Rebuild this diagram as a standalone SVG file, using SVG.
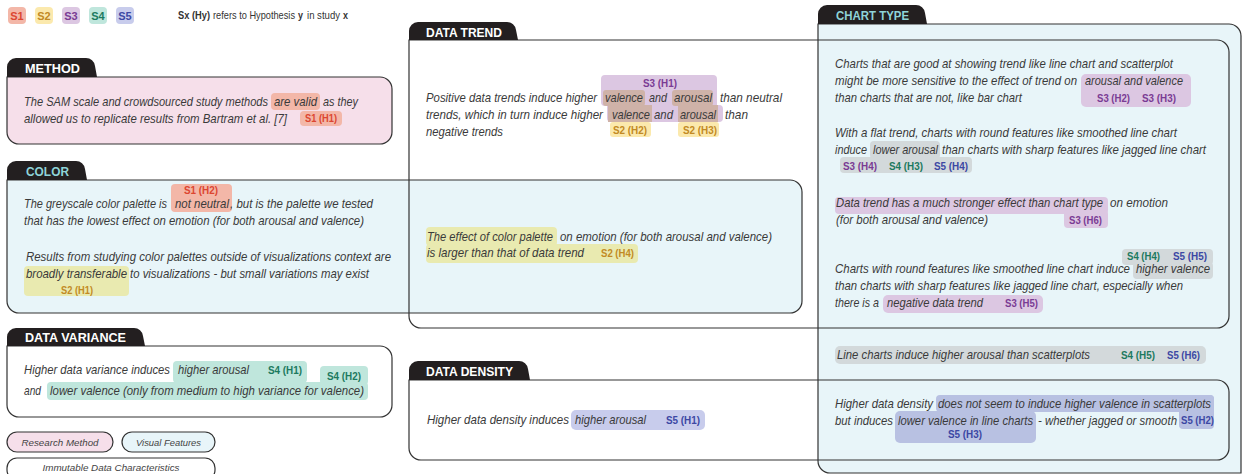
<svg xmlns="http://www.w3.org/2000/svg" width="1242" height="474" viewBox="0 0 1242 474">
<style>
.t{font-family:"Liberation Sans Narrow","Liberation Sans",Arial,sans-serif;font-style:italic;font-size:13px;fill:#3a3a3a}
.b{font-family:"Liberation Sans Narrow","Liberation Sans",Arial,sans-serif;font-weight:bold;font-size:11px}
.lg{font-family:"Liberation Sans Narrow","Liberation Sans",Arial,sans-serif;font-size:11px;fill:#333}
.pl{font-family:"Liberation Sans","DejaVu Sans",sans-serif;font-style:italic;font-size:9.5px;fill:#444}
.tab{fill:#231f20}
.tt{font-family:"Liberation Sans","DejaVu Sans",sans-serif;font-weight:bold;font-size:12px;fill:#ffffff}
.tc{fill:#8fd4d8}
.box{stroke:#333;stroke-width:1.2}
.c1{fill:#dc4631}.c2{fill:#c28a24}.c3{fill:#7a3b94}.c4{fill:#1c7a5f}.c5{fill:#3c48a4}
.h1{fill:#f3b7a8}.h2{fill:#fbe9ad}.h2g{fill:#e9eab0}.h3{fill:#dcc7e2}.h4{fill:#bfe6dc}.h5{fill:#c8ccec}.h5b{fill:#b8c1e2}.hg{fill:#d3d9db}.hbr{fill:#cfb2a8}
</style>

<g id="boxes">
  <path id="chart-type-box" class="box" fill="#e8f5f9" d="M818,24 H1229 A12,12 0 0 1 1241,36 V473 H830 A12,12 0 0 1 818,461 Z"/>
  <path id="color-box" class="box" fill="#e8f5f9" d="M7,180 H790 A12,12 0 0 1 802,192 V301 A12,12 0 0 1 790,313 H19 A12,12 0 0 1 7,301 Z"/>
  <path id="data-trend-box" class="box" fill="none" d="M409,40 H1217 A12,12 0 0 1 1229,52 V316 A12,12 0 0 1 1217,328 H421 A12,12 0 0 1 409,316 Z"/>
  <path id="data-density-box" class="box" fill="none" d="M409,380 H1217 A12,12 0 0 1 1229,392 V448 A12,12 0 0 1 1217,460 H421 A12,12 0 0 1 409,448 Z"/>
  <path id="method-box" class="box" fill="#f6dfea" d="M7,77 H380 A12,12 0 0 1 392,89 V132 A12,12 0 0 1 380,144 H19 A12,12 0 0 1 7,132 Z"/>
  <path id="data-variance-box" class="box" fill="#ffffff" d="M7,346 H380 A12,12 0 0 1 392,358 V405 A12,12 0 0 1 380,417 H19 A12,12 0 0 1 7,405 Z"/>
</g>

<g id="tabs">
  <g id="tab-method"><path class="tab" d="M7,77 V67 A9,9 0 0 1 16,58 H86 A9,9 0 0 1 95,66 L97,77 Z"/><text class="tt" x="25" y="73" textLength="55" lengthAdjust="spacingAndGlyphs">METHOD</text></g>
  <g id="tab-color"><path class="tab" d="M7,180 V170 A9,9 0 0 1 16,161 H76 A9,9 0 0 1 85,169 L87,180 Z"/><text class="tt tc" x="26" y="176" textLength="43" lengthAdjust="spacingAndGlyphs">COLOR</text></g>
  <g id="tab-variance"><path class="tab" d="M7,346 V337 A9,9 0 0 1 16,328 H134 A9,9 0 0 1 143,336 L145,346 Z"/><text class="tt" x="25" y="342" textLength="101" lengthAdjust="spacingAndGlyphs">DATA  VARIANCE</text></g>
  <g id="tab-trend"><path class="tab" d="M409,40 V31 A9,9 0 0 1 418,22 H507 A9,9 0 0 1 516,30 L518,40 Z"/><text class="tt" x="426" y="37" textLength="76" lengthAdjust="spacingAndGlyphs">DATA TREND</text></g>
  <g id="tab-density"><path class="tab" d="M409,380 V370 A9,9 0 0 1 418,361 H519 A9,9 0 0 1 528,369 L530,380 Z"/><text class="tt" x="426" y="376" textLength="87" lengthAdjust="spacingAndGlyphs">DATA DENSITY</text></g>
  <g id="tab-chart"><path class="tab" d="M818,24 V14 A9,9 0 0 1 827,5 H916 A9,9 0 0 1 925,13 L927,24 Z"/><text class="tc tt" x="836" y="20" textLength="73" lengthAdjust="spacingAndGlyphs">CHART TYPE</text></g>
</g>

<g id="legend-top">
  <rect class="h1" x="8" y="7" width="18" height="17" rx="4"/><text class="b c1" x="17" y="19.5" text-anchor="middle">S1</text>
  <rect class="h2" x="35" y="7" width="18" height="17" rx="4"/><text class="b c2" x="44" y="19.5" text-anchor="middle">S2</text>
  <rect class="h3" x="62" y="7" width="18" height="17" rx="4"/><text class="b c3" x="71" y="19.5" text-anchor="middle">S3</text>
  <rect class="h4" x="89" y="7" width="18" height="17" rx="4"/><text class="b c4" x="98" y="19.5" text-anchor="middle">S4</text>
  <rect class="h5" x="116" y="7" width="18" height="17" rx="4"/><text class="b c5" x="125" y="19.5" text-anchor="middle">S5</text>
  <text class="lg" x="178" y="19" font-weight="bold" textLength="32" lengthAdjust="spacingAndGlyphs">Sx (Hy)</text>
  <text class="lg" x="213" y="19" textLength="82" lengthAdjust="spacingAndGlyphs">refers to Hypothesis</text>
  <text class="lg" x="298" y="19" font-weight="bold" textLength="5" lengthAdjust="spacingAndGlyphs">y</text>
  <text class="lg" x="307" y="19" textLength="33" lengthAdjust="spacingAndGlyphs">in study</text>
  <text class="lg" x="343" y="19" font-weight="bold" textLength="5" lengthAdjust="spacingAndGlyphs">x</text>
</g>

<g id="node-method">
  <rect class="h1" x="271" y="93" width="49" height="17" rx="4"/>
  <rect class="h1" x="300" y="111" width="42" height="15" rx="4"/>
  <text class="t" x="24" y="106" textLength="244" lengthAdjust="spacingAndGlyphs">The SAM scale and crowdsourced study methods</text>
  <text class="t" x="274" y="106" textLength="43" lengthAdjust="spacingAndGlyphs">are valid</text>
  <text class="t" x="323" y="106" textLength="35" lengthAdjust="spacingAndGlyphs">as they</text>
  <text class="t" x="24" y="123" textLength="263" lengthAdjust="spacingAndGlyphs">allowed us to replicate results from Bartram et al. [7]</text>
  <text class="b c1" x="305" y="122" textLength="32" lengthAdjust="spacingAndGlyphs">S1 (H1)</text>
</g>

<g id="node-color">
  <rect class="h1" x="171" y="184" width="61" height="28" rx="4"/>
  <text class="b c1" x="184" y="194" textLength="34" lengthAdjust="spacingAndGlyphs">S1 (H2)</text>
  <text class="t" x="24" y="208" textLength="143" lengthAdjust="spacingAndGlyphs">The greyscale color palette is</text>
  <text class="t" x="175" y="208" textLength="54" lengthAdjust="spacingAndGlyphs">not neutral</text>
  <text class="t" x="230" y="208" textLength="143" lengthAdjust="spacingAndGlyphs">, but is the palette we tested</text>
  <text class="t" x="24" y="225" textLength="340" lengthAdjust="spacingAndGlyphs">that has the lowest effect on emotion (for both arousal and valence)</text>
  <rect class="h2g" x="24" y="266" width="105" height="30" rx="4"/>
  <text class="t" x="26" y="261" textLength="365" lengthAdjust="spacingAndGlyphs">Results from studying color palettes outside of visualizations context  are</text>
  <text class="t" x="26" y="278" textLength="101" lengthAdjust="spacingAndGlyphs">broadly transferable</text>
  <text class="t" x="130" y="278" textLength="239" lengthAdjust="spacingAndGlyphs">to visualizations - but small variations may exist</text>
  <text class="b c2" x="61" y="294" textLength="32" lengthAdjust="spacingAndGlyphs">S2 (H1)</text>
</g>

<g id="node-color-trend">
  <rect class="h2g" x="426" y="227" width="131" height="19" rx="4"/>
  <rect class="h2g" x="426" y="244" width="212" height="19" rx="4"/>
  <text class="t" x="427" y="241" textLength="126" lengthAdjust="spacingAndGlyphs">The effect of color palette</text>
  <text class="t" x="560" y="241" textLength="212" lengthAdjust="spacingAndGlyphs">on emotion (for both arousal and valence)</text>
  <text class="t" x="427" y="257" textLength="157" lengthAdjust="spacingAndGlyphs">is larger than that of data trend</text>
  <text class="b c2" x="601" y="257" textLength="33" lengthAdjust="spacingAndGlyphs">S2 (H4)</text>
</g>

<g id="node-data-trend">
  <path class="h3" d="M605,75 H713 A4,4 0 0 1 717,79 V105 H719 A4,4 0 0 1 723,109 V118 A4,4 0 0 1 719,122 H611 A4,4 0 0 1 607,118 V106 H605 A4,4 0 0 1 601,102 V79 A4,4 0 0 1 605,75 Z"/>
  <rect class="hbr" x="603" y="90" width="42" height="16" rx="3"/>
  <rect class="hbr" x="672" y="90" width="41" height="16" rx="3"/>
  <rect class="hbr" x="608" y="105" width="44" height="17"/>
  <rect class="hbr" x="678" y="105" width="40" height="17"/>
  <rect class="h2" x="610" y="122" width="41" height="15" rx="3"/>
  <rect class="h2" x="678" y="122" width="41" height="15" rx="3"/>
  <text class="b c3" x="643" y="87" textLength="34" lengthAdjust="spacingAndGlyphs">S3 (H1)</text>
  <text class="t" x="426" y="102" textLength="171" lengthAdjust="spacingAndGlyphs">Positive data trends induce higher</text>
  <text class="t" x="605" y="102" textLength="38" lengthAdjust="spacingAndGlyphs">valence</text>
  <text class="t" x="649" y="102" textLength="18" lengthAdjust="spacingAndGlyphs">and</text>
  <text class="t" x="674" y="102" textLength="38" lengthAdjust="spacingAndGlyphs">arousal</text>
  <text class="t" x="720" y="102" textLength="62" lengthAdjust="spacingAndGlyphs">than neutral</text>
  <text class="t" x="426" y="119" textLength="177" lengthAdjust="spacingAndGlyphs">trends, which in turn induce higher</text>
  <text class="t" x="612" y="119" textLength="38" lengthAdjust="spacingAndGlyphs">valence</text>
  <text class="t" x="654" y="119" textLength="19" lengthAdjust="spacingAndGlyphs">and</text>
  <text class="t" x="680" y="119" textLength="36" lengthAdjust="spacingAndGlyphs">arousal</text>
  <text class="t" x="725" y="119" textLength="23" lengthAdjust="spacingAndGlyphs">than</text>
  <text class="t" x="426" y="136" textLength="77" lengthAdjust="spacingAndGlyphs">negative trends</text>
  <text class="b c2" x="613" y="134" textLength="34" lengthAdjust="spacingAndGlyphs">S2 (H2)</text>
  <text class="b c2" x="683" y="134" textLength="34" lengthAdjust="spacingAndGlyphs">S2 (H3)</text>
</g>

<g id="node-data-variance">
  <rect class="h4" x="173" y="361" width="134" height="22" rx="4"/>
  <rect class="h4" x="320" y="366" width="48" height="19" rx="4"/>
  <rect class="h4" x="47" y="382" width="321" height="18" rx="4"/>
  <text class="t" x="24" y="374" textLength="146" lengthAdjust="spacingAndGlyphs">Higher data variance induces</text>
  <text class="t" x="178" y="374" textLength="71" lengthAdjust="spacingAndGlyphs">higher arousal</text>
  <text class="b c4" x="268" y="374" textLength="34" lengthAdjust="spacingAndGlyphs">S4 (H1)</text>
  <text class="b c4" x="327" y="380" textLength="34" lengthAdjust="spacingAndGlyphs">S4 (H2)</text>
  <text class="t" x="24" y="395" textLength="17" lengthAdjust="spacingAndGlyphs">and</text>
  <text class="t" x="50" y="395" textLength="314" lengthAdjust="spacingAndGlyphs">lower valence (only from medium to high variance for valence)</text>
</g>

<g id="node-data-density">
  <rect class="h5" x="571" y="410" width="134" height="20" rx="5"/>
  <text class="t" x="427" y="424" textLength="142" lengthAdjust="spacingAndGlyphs">Higher data density induces</text>
  <text class="t" x="575" y="424" textLength="71" lengthAdjust="spacingAndGlyphs">higher arousal</text>
  <text class="b c5" x="666" y="424" textLength="34" lengthAdjust="spacingAndGlyphs">S5 (H1)</text>
</g>

<g id="node-chart-type">
  <rect class="h3" x="1081" y="74" width="110" height="33" rx="5"/>
  <text class="t" x="835" y="68" textLength="338" lengthAdjust="spacingAndGlyphs">Charts that are good at showing trend like line chart and scatterplot</text>
  <text class="t" x="835" y="85" textLength="242" lengthAdjust="spacingAndGlyphs">might be more sensitive to the effect of trend on</text>
  <text class="t" x="1085" y="85" textLength="98" lengthAdjust="spacingAndGlyphs">arousal and valence</text>
  <text class="t" x="835" y="102" textLength="187" lengthAdjust="spacingAndGlyphs">than charts that are not, like bar chart</text>
  <text class="b c3" x="1097" y="102" textLength="33" lengthAdjust="spacingAndGlyphs">S3 (H2)</text>
  <text class="b c3" x="1142" y="102" textLength="34" lengthAdjust="spacingAndGlyphs">S3 (H3)</text>

  <rect class="hg" x="870" y="141" width="70" height="18" rx="4"/>
  <rect class="hg" x="840" y="157" width="132" height="16" rx="4"/>
  <text class="t" x="835" y="137" textLength="342" lengthAdjust="spacingAndGlyphs">With a flat trend, charts with round features like smoothed line chart</text>
  <text class="t" x="835" y="154" textLength="32" lengthAdjust="spacingAndGlyphs">induce</text>
  <text class="t" x="873" y="154" textLength="65" lengthAdjust="spacingAndGlyphs">lower arousal</text>
  <text class="t" x="942" y="154" textLength="264" lengthAdjust="spacingAndGlyphs">than charts with sharp features like jagged line chart</text>
  <text class="b c3" x="843" y="170" textLength="34" lengthAdjust="spacingAndGlyphs">S3 (H4)</text>
  <text class="b c4" x="889" y="170" textLength="34" lengthAdjust="spacingAndGlyphs">S4 (H3)</text>
  <text class="b c5" x="934" y="170" textLength="34" lengthAdjust="spacingAndGlyphs">S5 (H4)</text>

  <rect class="h3" x="835" y="197" width="273" height="17" rx="4"/>
  <rect class="h3" x="1064" y="210" width="44" height="18" rx="4"/>
  <text class="t" x="836" y="207" textLength="267" lengthAdjust="spacingAndGlyphs">Data trend has a much stronger effect than chart type</text>
  <text class="t" x="1110" y="207" textLength="58" lengthAdjust="spacingAndGlyphs">on emotion</text>
  <text class="t" x="836" y="224" textLength="152" lengthAdjust="spacingAndGlyphs">(for both arousal and valence)</text>
  <text class="b c3" x="1069" y="224" textLength="33" lengthAdjust="spacingAndGlyphs">S3 (H6)</text>

  <rect class="hg" x="1122" y="249" width="91" height="16" rx="4"/>
  <rect class="hg" x="1133" y="262" width="80" height="17" rx="4"/>
  <text class="b c4" x="1127" y="260" textLength="33" lengthAdjust="spacingAndGlyphs">S4 (H4)</text>
  <text class="b c5" x="1173" y="260" textLength="34" lengthAdjust="spacingAndGlyphs">S5 (H5)</text>
  <text class="t" x="835" y="273" textLength="295" lengthAdjust="spacingAndGlyphs">Charts with round features like smoothed line chart induce</text>
  <text class="t" x="1136" y="273" textLength="74" lengthAdjust="spacingAndGlyphs">higher valence</text>
  <text class="t" x="835" y="290" textLength="348" lengthAdjust="spacingAndGlyphs">than charts with sharp features like jagged line chart, especially when</text>
  <rect class="h3" x="883" y="295" width="160" height="18" rx="5"/>
  <text class="t" x="835" y="307" textLength="44" lengthAdjust="spacingAndGlyphs">there is a</text>
  <text class="t" x="887" y="307" textLength="96" lengthAdjust="spacingAndGlyphs">negative data trend</text>
  <text class="b c3" x="1005" y="307" textLength="33" lengthAdjust="spacingAndGlyphs">S3 (H5)</text>

  <rect class="hg" x="835" y="346" width="371" height="18" rx="5"/>
  <text class="t" x="837" y="359" textLength="253" lengthAdjust="spacingAndGlyphs">Line charts induce higher arousal than scatterplots</text>
  <text class="b c4" x="1121" y="359" textLength="34" lengthAdjust="spacingAndGlyphs">S4 (H5)</text>
  <text class="b c5" x="1167" y="359" textLength="33" lengthAdjust="spacingAndGlyphs">S5 (H6)</text>

  <rect class="h5b" x="936" y="395" width="278" height="17" rx="4"/>
  <rect class="h5b" x="1179" y="395" width="35" height="34" rx="4"/>
  <rect class="h5b" x="895" y="411" width="141" height="32" rx="5"/>
  <text class="t" x="835" y="408" textLength="98" lengthAdjust="spacingAndGlyphs">Higher data density</text>
  <text class="t" x="938" y="408" textLength="273" lengthAdjust="spacingAndGlyphs">does not seem to induce higher valence in scatterplots</text>
  <text class="t" x="835" y="425" textLength="58" lengthAdjust="spacingAndGlyphs">but induces</text>
  <text class="t" x="898" y="425" textLength="135" lengthAdjust="spacingAndGlyphs">lower valence in line charts</text>
  <text class="t" x="1038" y="425" textLength="139" lengthAdjust="spacingAndGlyphs">- whether jagged or smooth</text>
  <text class="b c5" x="1181" y="424" textLength="33" lengthAdjust="spacingAndGlyphs">S5 (H2)</text>
  <text class="b c5" x="948" y="438" textLength="34" lengthAdjust="spacingAndGlyphs">S5 (H3)</text>
</g>

<g id="legend-bottom">
  <rect class="box" fill="#f6dfea" x="7" y="432" width="106" height="20" rx="10"/>
  <text class="pl" x="60" y="446" text-anchor="middle" textLength="77" lengthAdjust="spacingAndGlyphs">Research Method</text>
  <rect class="box" fill="#e8f5f9" x="122" y="432" width="93" height="20" rx="10"/>
  <text class="pl" x="168.5" y="446" text-anchor="middle" textLength="65" lengthAdjust="spacingAndGlyphs">Visual Features</text>
  <rect class="box" fill="#ffffff" x="7" y="458" width="208" height="22" rx="10"/>
  <text class="pl" x="111" y="471" text-anchor="middle" textLength="137" lengthAdjust="spacingAndGlyphs">Immutable Data Characteristics</text>
</g>
</svg>
